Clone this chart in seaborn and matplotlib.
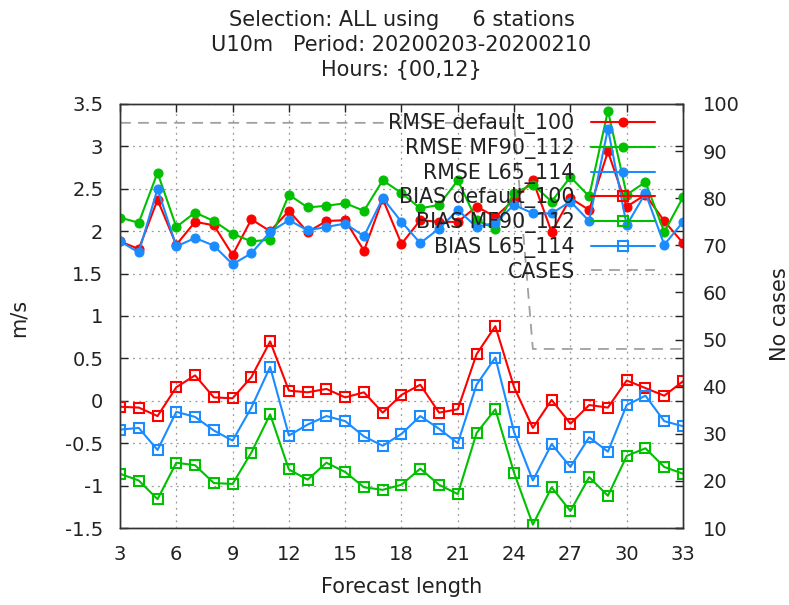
import numpy as np
import pandas as pd
import matplotlib
matplotlib.use("Agg")
import matplotlib.pyplot as plt
import seaborn as sns
from matplotlib.ticker import FuncFormatter, MultipleLocator

# forecast lengths (hours)
fc_length = list(range(3, 34))

rmse_default = [1.88, 1.79, 2.37, 1.84, 2.11, 2.07, 1.72, 2.14, 2.00, 2.24, 1.99, 2.12, 2.13, 1.77, 2.38, 1.85,
                2.13, 2.11, 2.11, 2.29, 2.17, 2.37, 2.60, 1.99, 2.39, 2.25, 2.94, 2.29, 2.43, 2.12, 1.86]
rmse_mf90 = [2.16, 2.10, 2.69, 2.05, 2.22, 2.12, 1.97, 1.88, 1.90, 2.43, 2.28, 2.30, 2.33, 2.24, 2.60, 2.45,
             2.27, 2.31, 2.60, 2.13, 2.03, 2.45, 2.55, 2.35, 2.64, 2.41, 3.42, 2.43, 2.58, 1.99, 2.40]
rmse_l65 = [1.88, 1.75, 2.50, 1.82, 1.92, 1.83, 1.61, 1.74, 1.99, 2.13, 2.01, 2.05, 2.09, 1.94, 2.39, 2.11,
            1.86, 2.03, 2.25, 2.05, 2.10, 2.31, 2.21, 2.21, 2.35, 2.12, 3.21, 2.07, 2.45, 1.84, 2.11]

bias_default = [-0.07, -0.08, -0.18, 0.16, 0.30, 0.04, 0.03, 0.28, 0.70, 0.12, 0.10, 0.14, 0.04, 0.10, -0.14, 0.07,
                0.19, -0.14, -0.10, 0.55, 0.88, 0.16, -0.32, 0.01, -0.27, -0.05, -0.08, 0.24, 0.15, 0.06, 0.23]
bias_mf90 = [-0.86, -0.94, -1.16, -0.73, -0.76, -0.97, -0.98, -0.61, -0.16, -0.81, -0.93, -0.73, -0.84, -1.02, -1.05, -0.99,
             -0.80, -0.99, -1.10, -0.38, -0.10, -0.85, -1.46, -1.02, -1.30, -0.90, -1.12, -0.65, -0.56, -0.78, -0.86]
bias_l65 = [-0.34, -0.32, -0.58, -0.13, -0.19, -0.35, -0.47, -0.08, 0.40, -0.41, -0.28, -0.18, -0.24, -0.42, -0.53, -0.39,
            -0.18, -0.33, -0.50, 0.19, 0.51, -0.37, -0.94, -0.51, -0.78, -0.43, -0.60, -0.05, 0.06, -0.24, -0.30]

cases = [96] * 22 + [48] * 9

red = "#ff0000"
green = "#00c000"
blue = "#1a8cff"
txt = "#222222"

sns.set_theme(style="white")
plt.rcParams["font.family"] = ["DejaVu Sans"]
fs_tick = 14
fs_lab = 15
fs_leg = 14.8

fig = plt.figure(figsize=(7.89, 6.05), dpi=100)
ax = fig.add_axes([120 / 789, 1 - 528 / 605, 563 / 789, 424 / 605])
ax2 = ax.twinx()

df = pd.DataFrame({"x": fc_length})

series = [
    ("RMSE default_100", rmse_default, red, True),
    ("RMSE MF90_112", rmse_mf90, green, True),
    ("RMSE L65_114", rmse_l65, blue, True),
    ("BIAS default_100", bias_default, red, False),
    ("BIAS MF90_112", bias_mf90, green, False),
    ("BIAS L65_114", bias_l65, blue, False),
]

for name, vals, col, filled in series:
    df[name] = vals
    if filled:
        sns.lineplot(data=df, x="x", y=name, ax=ax, color=col, lw=1.5, marker="o",
                     markersize=6.5, markeredgecolor=col, markerfacecolor=col, label=name)
    else:
        sns.lineplot(data=df, x="x", y=name, ax=ax, color=col, lw=1.5, marker="s",
                     markersize=7.5, markeredgecolor=col, markerfacecolor="none",
                     markeredgewidth=1.5, label=name)

df["CASES"] = cases
sns.lineplot(data=df, x="x", y="CASES", ax=ax2, color="#a0a0a0", lw=1.3,
             linestyle=(0, (6, 4)), label="CASES")

ax.set_zorder(ax2.get_zorder() + 1)
ax.patch.set_visible(False)

ax.set_xlim(3, 33)
ax.set_ylim(-1.5, 3.5)
ax2.set_ylim(10, 100)
ax.xaxis.set_major_locator(MultipleLocator(3))
ax.yaxis.set_major_locator(MultipleLocator(0.5))
ax2.yaxis.set_major_locator(MultipleLocator(10))
ax.yaxis.set_major_formatter(FuncFormatter(lambda v, p: "%g" % v))
ax2.yaxis.set_major_formatter(FuncFormatter(lambda v, p: "%g" % v))

ax.grid(True, color="#999999", linestyle=(0, (1.5, 3.5)), lw=0.9)
ax.tick_params(axis="both", direction="in", length=6, width=1, colors=txt, labelsize=fs_tick,
               top=True, right=True, labelcolor=txt)
ax.tick_params(axis="x", pad=12)
ax.tick_params(axis="y", pad=12)
ax2.tick_params(axis="y", direction="in", length=6, width=1, labelsize=fs_tick, pad=14,
                colors=txt, labelcolor=txt)
for a in (ax, ax2):
    for s in a.spines.values():
        s.set_color("#333333")
        s.set_linewidth(1.0)

ax.set_xlabel("Forecast length", fontsize=fs_lab, color=txt)
ax.set_ylabel("m/s", fontsize=fs_lab, color=txt)
ax2.set_ylabel("No cases", fontsize=fs_lab, color=txt)
ax.xaxis.set_label_coords(0.5, -0.115)
ax.yaxis.set_label_coords(-0.163, 0.495)
ax2.yaxis.set_label_coords(1.155, 0.505)

ax.set_title("Selection: ALL using     6 stations\nU10m   Period: 20200203-20200210\nHours: {00,12}",
             fontsize=fs_lab, color=txt, pad=20, linespacing=1.32)

h1, l1 = ax.get_legend_handles_labels()
h2, l2 = ax2.get_legend_handles_labels()
if ax2.get_legend() is not None:
    ax2.get_legend().remove()
ax.legend(h1 + h2, l1 + l2, loc="upper right", bbox_to_anchor=(0.95, 0.978), frameon=False,
          markerfirst=False, fontsize=fs_leg, handlelength=3.1, labelspacing=0.18,
          borderaxespad=0, borderpad=0, handletextpad=0.8, labelcolor=txt)

fig.savefig("out.png", dpi=100)
